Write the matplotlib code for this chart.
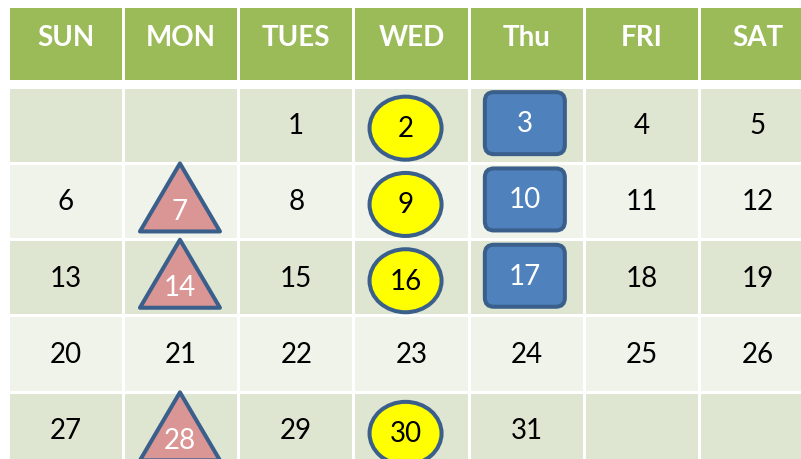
import matplotlib
matplotlib.use('Agg')
import matplotlib.pyplot as plt
from matplotlib.patches import Rectangle, Ellipse, Polygon, FancyBboxPatch

# calendar data
day_names = ['SUN', 'MON', 'TUES', 'WED', 'Thu', 'FRI', 'SAT']
first_weekday = 2      # day 1 falls on TUES
n_days = 31
circle_days = [2, 9, 16, 30]
square_days = [3, 10, 17]
triangle_days = [7, 14, 28]

# layout (pixels)
W, H = 801, 460
x0 = 8
col_w = 115.3
hdr_top, hdr_h = 9, 72
body_top = 88
row_h = 76.3
gap = 3

hdr_color = '#9BBB59'
band_dark = '#DEE6D2'
band_light = '#EFF3E9'
edge = '#3A5F8B'

fig = plt.figure(figsize=(W / 100, H / 100), dpi=100)
ax = fig.add_axes([0, 0, 1, 1])
ax.set_xlim(0, W)
ax.set_ylim(H, 0)
ax.axis('off')

font = 'Lato'


def cell_x(c):
    return x0 + c * col_w


def cell_center(day):
    idx = first_weekday + day - 1
    r, c = idx // 7, idx % 7
    return cell_x(c) + col_w / 2, body_top + r * row_h + row_h / 2


# header
for c, name in enumerate(day_names):
    ax.add_patch(Rectangle((cell_x(c) + gap / 2, hdr_top), col_w - gap, hdr_h,
                           facecolor=hdr_color, edgecolor='none'))
    ax.text(cell_x(c) + col_w / 2, 38, name, ha='center', va='center',
            color='white', fontsize=20, fontweight='bold', family=font)

# body cells
n_rows = (first_weekday + n_days + 6) // 7
for r in range(n_rows):
    color = band_dark if r % 2 == 0 else band_light
    for c in range(7):
        ax.add_patch(Rectangle((cell_x(c) + gap / 2, body_top + r * row_h + gap / 2),
                               col_w - gap, row_h - gap,
                               facecolor=color, edgecolor='none', zorder=1))

# days
for d in range(1, n_days + 1):
    cx, cy = cell_center(d)
    tcolor = 'black'
    ty = cy
    if d in circle_days:
        cx -= 6
        cy += 3
        ty = cy
        ax.add_patch(Ellipse((cx, cy), 72, 63, facecolor='#FFFF00',
                             edgecolor=edge, linewidth=2.9, zorder=3))
    elif d in square_days:
        cx -= 2
        cy -= 2
        ty = cy
        ax.add_patch(FancyBboxPatch((cx - 40, cy - 31), 80, 62,
                                    boxstyle='round,pad=0,rounding_size=9',
                                    facecolor='#4F81BD', edgecolor=edge,
                                    linewidth=2.9, zorder=3))
        tcolor = 'white'
    elif d in triangle_days:
        cx -= 1
        top = cy - 38
        bot = top + 68
        ax.add_patch(Polygon([(cx, top), (cx + 40, bot), (cx - 40, bot)],
                             closed=True, facecolor='#D99694', edgecolor=edge,
                             linewidth=2.9, joinstyle='round', zorder=3))
        ty = top + 68 * 0.7
        tcolor = 'white'
    ax.text(cx, ty, str(d), ha='center', va='center', color=tcolor,
            fontsize=20, family=font, zorder=4)

fig.savefig('out.png', dpi=100, facecolor='white')
